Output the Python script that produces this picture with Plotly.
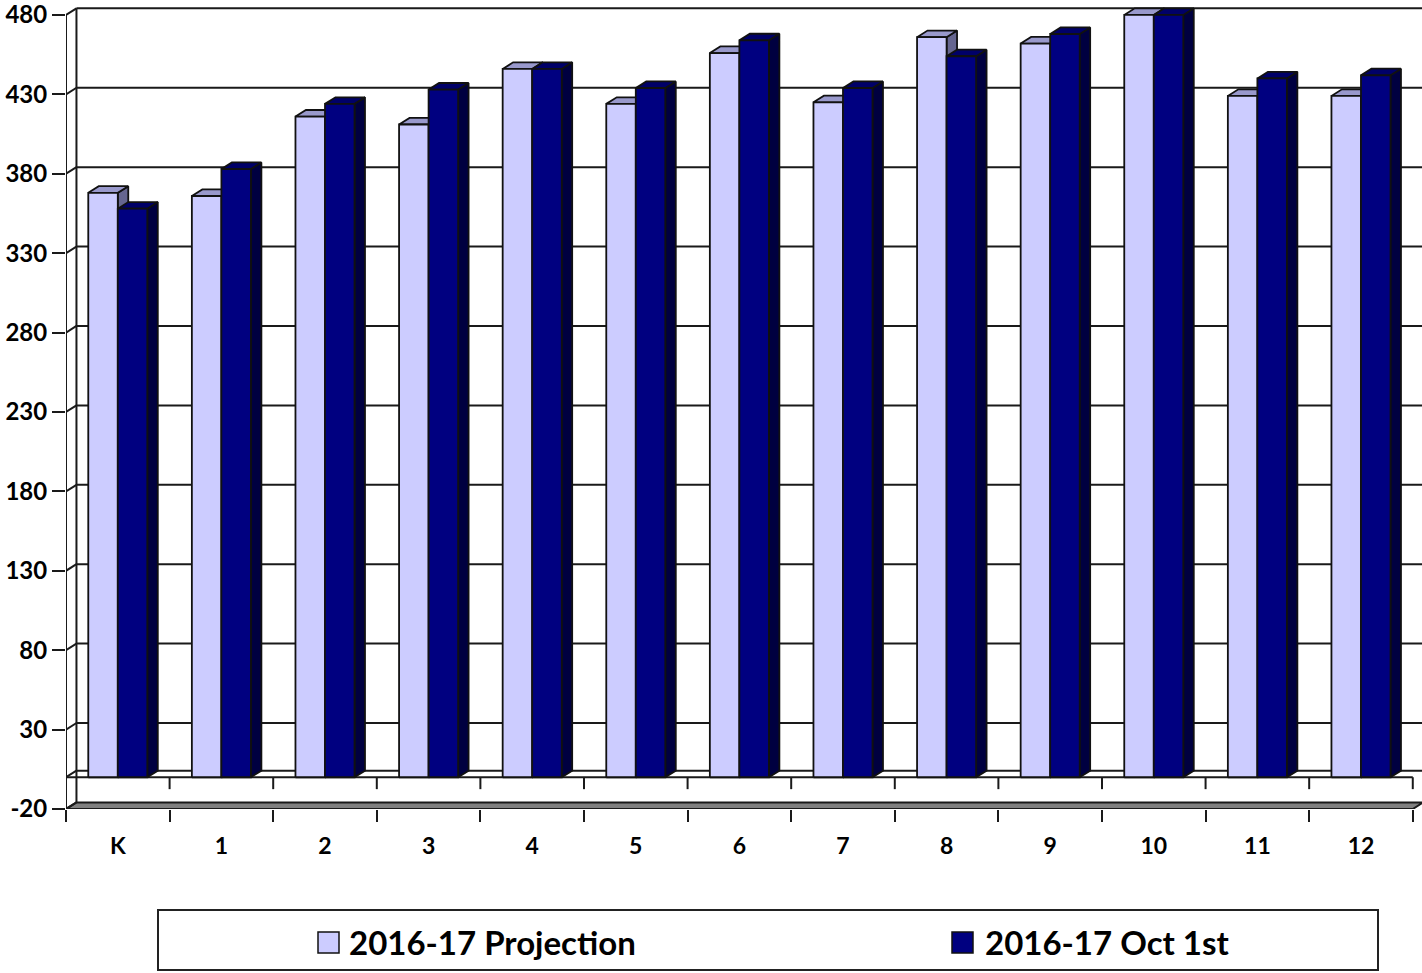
import plotly.graph_objects as go

# ---------------- data ----------------
categories = ["K", "1", "2", "3", "4", "5", "6", "7", "8", "9", "10", "11", "12"]
projection = [368, 366, 416, 411, 446, 424, 456, 425, 466, 462, 480, 429, 429]
oct_first = [358, 383, 424, 433, 446, 434, 464, 434, 454, 468, 480, 440, 442]
series_names = ["2016-17 Projection", "2016-17 Oct 1st"]
y_ticks = list(range(-20, 481, 50))
y_tick_text = [str(v) for v in y_ticks]

# ---------------- style / geometry ----------------
W = 0.285      # bar front width (category units)
DX = 0.101     # depth offset in x (category units)
DY = 4.15      # depth offset in y (value units)
X_LO, X_HI = -0.5, 12.589
Y_LO, Y_HI = -20, 485
FONT = "Lato"
OUT = "#111111"

proj_cols = dict(front="#CCCCFF", top="#9999CC", side="#666690")
oct_cols = dict(front="#000080", top="#000068", side="#000040")

def faces(values, left_off):
    fx, fy, tx, ty, sx, sy = [], [], [], [], [], []
    for i, v in enumerate(values):
        xl = i + left_off
        xr = xl + W
        fx += [xl, xr, xr, xl, xl, None]
        fy += [0, 0, v, v, 0, None]
        tx += [xl, xr, xr + DX, xl + DX, xl, None]
        ty += [v, v, v + DY, v + DY, v, None]
        sx += [xr, xr + DX, xr + DX, xr, xr, None]
        sy += [0, DY, v + DY, v, 0, None]
    return (fx, fy), (tx, ty), (sx, sy)

fig = go.Figure()
for vals, off, cols, name in [(projection, -W, proj_cols, series_names[0]),
                              (oct_first, 0.0, oct_cols, series_names[1])]:
    front, top, side = faces(vals, off)
    for (xs, ys), key in [(side, "side"), (top, "top"), (front, "front")]:
        fig.add_trace(go.Scatter(
            x=xs, y=ys, mode="lines", fill="toself", fillcolor=cols[key],
            line=dict(color=OUT, width=1.8), name=name, showlegend=False,
            hoverinfo="skip"))

# dummy trace for the label axis
fig.add_trace(go.Scatter(x=[0], y=[0], xaxis="x2", mode="markers",
                         marker=dict(opacity=0), showlegend=False, hoverinfo="skip"))

shapes = []
LC = "#1a1a1a"
def line(x0, y0, x1, y1, w=2, color=LC):
    shapes.append(dict(type="line", xref="x", yref="y", x0=x0, y0=y0, x1=x1, y1=y1,
                       line=dict(color=color, width=w), layer="below"))

# floor slab
shapes.append(dict(type="path", xref="x", yref="y", layer="below",
                   path=f"M{X_LO},{Y_LO} L12.5,{Y_LO} L{12.5+DX},{Y_LO+DY} L{X_LO+DX},{Y_LO+DY} Z",
                   fillcolor="#808080", line=dict(color=LC, width=2)))
# back wall gridlines + side wall diagonals
for v in y_ticks:
    if v > -20:
        line(X_LO + DX, v + DY, X_HI + 0.5, v + DY)
    line(X_LO, v, X_LO + DX, v + DY)
# zero plane
line(X_LO + DX, DY, X_HI + 0.5, DY)
line(X_LO, 0, 12.5, 0)
line(X_LO, 0, X_LO + DX, DY)
# wall verticals
line(X_LO, Y_LO, X_LO, 480)
line(X_LO + DX, Y_LO + DY, X_LO + DX, 480 + DY)
# ticks under zero plane
for k in range(len(categories) + 1):
    line(X_LO + k, 0, X_LO + k, -7.5)

# legend (manual)
PW, PH, ML, MT = 1356, 802, 66, 7
def px(xp): return (xp - ML) / PW
def py(yp): return (MT + PH - yp) / PH
shapes.append(dict(type="rect", xref="paper", yref="paper",
                   x0=px(158), x1=px(1378), y0=py(970), y1=py(910),
                   line=dict(color="#222222", width=2), fillcolor="white"))
annotations = []
for (sx0, tx0), name, cols in [((318, 347), series_names[0], proj_cols),
                               ((952, 983), series_names[1], oct_cols)]:
    shapes.append(dict(type="rect", xref="paper", yref="paper",
                       x0=px(sx0), x1=px(sx0 + 21), y0=py(953), y1=py(932),
                       line=dict(color=OUT, width=1.5), fillcolor=cols["front"]))
    annotations.append(dict(xref="paper", yref="paper", x=px(tx0), y=py(942),
                            xanchor="left", yanchor="middle", showarrow=False,
                            text=name, font=dict(family=FONT, size=33, color="black", weight="bold")))

fig.update_layout(
    width=1422, height=973,
    margin=dict(l=ML, r=0, t=MT, b=973 - MT - PH, autoexpand=False),
    paper_bgcolor="white", plot_bgcolor="white",
    showlegend=False,
    shapes=shapes, annotations=annotations,
    xaxis=dict(range=[X_LO, X_HI], tickvals=[X_LO + k for k in range(len(categories) + 1)],
               ticktext=[""] * (len(categories) + 1), ticks="outside", ticklen=12,
               tickwidth=2, tickcolor=LC, showgrid=False, zeroline=False, showline=False),
    xaxis2=dict(range=[X_LO, X_HI], overlaying="x", anchor="y", side="bottom",
                tickvals=list(range(len(categories))), ticktext=categories,
                ticks="outside", ticklen=16, tickcolor="rgba(0,0,0,0)",
                tickfont=dict(family=FONT, size=23, color="black", weight="bold"),
                showgrid=False, zeroline=False, showline=False),
    yaxis=dict(range=[Y_LO, Y_HI], tickvals=y_ticks, ticktext=y_tick_text,
               ticks="outside", ticklen=13, ticklabeloverflow="allow",
               tickwidth=2, tickcolor=LC, showgrid=False, zeroline=False, showline=False,
               tickfont=dict(family=FONT, size=24, color="black", weight="bold")),
)

fig.write_html("out.html", config={"displayModeBar": False},
               post_script="document.body.style.margin='0';")
